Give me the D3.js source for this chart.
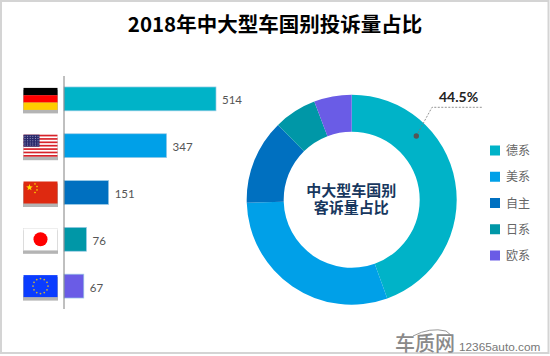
<!DOCTYPE html>
<html>
<head>
<meta charset="utf-8">
<script src="https://cdn.jsdelivr.net/npm/d3@7"></script>
<style>
html, body { margin: 0; padding: 0; background: #fff; }
svg { display: block; }
text { font-family: "Noto Sans CJK SC", sans-serif; }
</style>
</head>
<body>
<svg></svg>
<script>
var categories = ['德系', '美系', '自主', '日系', '欧系'];
var flags = ['de', 'us', 'cn', 'jp', 'eu'];
var values = [514, 347, 151, 76, 67];
var colors = ['#00B3C8', '#00A0E8', '#0070C0', '#0097A7', '#6A5CE6'];
var callout = '44.5%';
var title = '2018年中大型车国别投诉量占比';
var centerLines = ['中大型车国别', '客诉量占比'];

var svg = d3.select('svg').attr('width', 550).attr('height', 356);

// outer frame of the picture
svg.append('rect').attr('width', 550).attr('height', 356).attr('fill', '#fff');
svg.append('rect').attr('x', 1).attr('y', 1).attr('width', 547.5).attr('height', 352)
    .attr('fill', 'none').attr('stroke', '#d4d4d4').attr('stroke-width', 2);

svg.append('text')
    .attr('x', 275).attr('y', 32)
    .attr('text-anchor', 'middle')
    .style('font-size', '20.5px')
    .style('font-weight', 700)
    .style('fill', '#000')
    .text(title);

// bars
var xScale = d3.scaleLinear().domain([0, 514]).range([64, 216]);
var yScale = d3.scaleBand().domain(categories).range([75.5, 309.5]).paddingInner(0.49).paddingOuter(0.245);

svg.selectAll('.bar')
    .data(values)
    .enter()
    .append('rect')
    .attr('class', 'bar')
    .attr('x', xScale(0))
    .attr('y', function (d, i) { return yScale(categories[i]); })
    .attr('width', function (d) { return xScale(d) - xScale(0); })
    .attr('height', yScale.bandwidth())
    .style('fill', function (d, i) { return colors[i]; })
    .style('stroke', '#9ccbe6')
    .style('stroke-width', 0.7);

svg.selectAll('.val')
    .data(values)
    .enter()
    .append('text')
    .attr('class', 'val')
    .attr('x', function (d) { return xScale(d) + 6; })
    .attr('y', function (d, i) { return yScale(categories[i]) + yScale.bandwidth() / 2 + 5.5; })
    .style('font-family', 'Lato')
    .style('font-size', '11.5px')
    .style('fill', '#555')
    .text(function (d) { return d; });

svg.append('line')
    .attr('x1', 64).attr('x2', 64).attr('y1', 76).attr('y2', 309)
    .style('stroke', '#808080').style('stroke-width', 1);

// flags
var flagW = 34, flagH = 22;
function star(g, cx, cy, r, fill) {
    var pts = d3.range(10).map(function (k) {
        var rr = k % 2 ? r * 0.4 : r, a = k * Math.PI / 5 - Math.PI / 2;
        return [cx + rr * Math.cos(a), cy + rr * Math.sin(a)];
    });
    g.append('polygon').attr('points', pts.join(' ')).attr('fill', fill);
}
function stripe(g, y, h, fill) {
    g.append('rect').attr('y', y).attr('width', flagW).attr('height', h).attr('fill', fill);
}
var draw = {
    de: function (g) {
        stripe(g, 0, flagH / 3, '#000');
        stripe(g, flagH / 3, flagH / 3, '#f00');
        stripe(g, 2 * flagH / 3, flagH / 3, '#ffcc00');
    },
    us: function (g) {
        stripe(g, 0, flagH, '#fff');
        d3.range(0, 13, 2).forEach(function (k) { stripe(g, k * flagH / 13, flagH / 13, '#d8232a'); });
        g.append('rect').attr('width', 16).attr('height', 12).attr('fill', '#2a2a6c');
        d3.range(5).forEach(function (a) {
            d3.range(6).forEach(function (b) {
                g.append('circle').attr('cx', 1.5 + b * 2.6).attr('cy', 1.6 + a * 2.2).attr('r', 0.5).attr('fill', '#b8b8d8');
            });
        });
    },
    cn: function (g) {
        stripe(g, 0, flagH, '#de2910');
        star(g, 6, 6, 3.5, '#ffde00');
        [[11.5, 2.5], [13.5, 5], [13.5, 8.5], [11.5, 11]].forEach(function (p) {
            star(g, p[0], p[1], 1.2, '#ffde00');
        });
    },
    jp: function (g) {
        stripe(g, 0, flagH, '#fff');
        g.append('circle').attr('cx', flagW / 2).attr('cy', flagH / 2).attr('r', 7).attr('fill', '#f00');
        g.append('rect').attr('width', flagW).attr('height', flagH).attr('fill', 'none').attr('stroke', '#ddd').attr('stroke-width', 0.5);
    },
    eu: function (g) {
        stripe(g, 0, flagH, '#0a3cff');
        d3.range(12).forEach(function (k) {
            var a = k * Math.PI / 6;
            g.append('circle').attr('cx', flagW / 2 + 7.5 * Math.cos(a)).attr('cy', flagH / 2 + 7.5 * Math.sin(a)).attr('r', 0.9).attr('fill', '#c9b13a');
        });
    }
};
flags.forEach(function (f, i) {
    var g = svg.append('g')
        .attr('transform', 'translate(23.5,' + (yScale(categories[i]) + yScale.bandwidth() / 2 - flagH / 2) + ')');
    g.append('rect').attr('x', -0.5).attr('y', 2).attr('width', flagW + 1).attr('height', flagH + 1.5).attr('fill', '#b4b4b4');
    draw[f](g);
});

// donut
var cx = 351.7, cy = 199.7, outer = 105, inner = 68;
var pie = d3.pie().sort(null)(values);
var arc = d3.arc().innerRadius(inner).outerRadius(outer);
var donut = svg.append('g').attr('transform', 'translate(' + cx + ',' + cy + ')');
donut.selectAll('path')
    .data(pie)
    .enter()
    .append('path')
    .attr('d', arc)
    .style('fill', function (d, i) { return colors[i]; });

// two lines of one centre label
var centerText = svg.append('text')
    .attr('text-anchor', 'middle')
    .style('font-family', '"Liberation Sans", "Noto Sans CJK SC", sans-serif')
    .style('font-size', '15px')
    .style('font-weight', 700)
    .style('fill', '#17375e');
centerLines.forEach(function (t, i) {
    centerText.append('tspan')
        .attr('x', cx - 0.5).attr('y', cy - 4 + i * 17.5)
        .text(t);
});

// callout for the first slice
svg.append('path')
    .attr('d', 'M416.3,136 L432,107.3 L482,107.3')
    .style('fill', 'none')
    .style('stroke', '#777')
    .style('stroke-width', 0.8)
    .style('stroke-dasharray', '2,1.5');
svg.append('circle').attr('cx', 416.3).attr('cy', 136).attr('r', 2.7).style('fill', '#555');
svg.append('text')
    .attr('x', 439).attr('y', 101.5)
    .style('font-family', 'Lato')
    .style('font-size', '14px')
    .style('font-weight', 700)
    .style('fill', '#222')
    .text(callout);

// legend
var legendY = d3.scalePoint().domain(categories).range([150.5, 255.5]);
var legend = svg.selectAll('.legend')
    .data(categories)
    .enter()
    .append('g')
    .attr('class', 'legend')
    .attr('transform', function (d) { return 'translate(490,' + legendY(d) + ')'; });
legend.append('rect')
    .attr('y', -5).attr('width', 10).attr('height', 10)
    .style('fill', function (d, i) { return colors[i]; });
legend.append('text')
    .attr('x', 16).attr('y', 4.5)
    .style('font-size', '12px')
    .style('fill', '#666')
    .text(function (d) { return d; });

// watermark
var mark = svg.append('g');
mark.append('path')
    .attr('d', 'M413,336 Q430,327 446,331 L452,336')
    .style('fill', 'none').style('stroke', '#9a9a9a').style('stroke-width', 1);
mark.append('text')
    .attr('x', 395).attr('y', 351)
    .style('font-size', '20px').style('font-weight', 500).style('fill', '#8a8a8a')
    .text('车质网');
mark.append('text')
    .attr('x', 459).attr('y', 351)
    .style('font-family', '"Liberation Sans"')
    .style('font-size', '11.8px').style('fill', '#777')
    .text('12365auto.com');
</script>
</body>
</html>
